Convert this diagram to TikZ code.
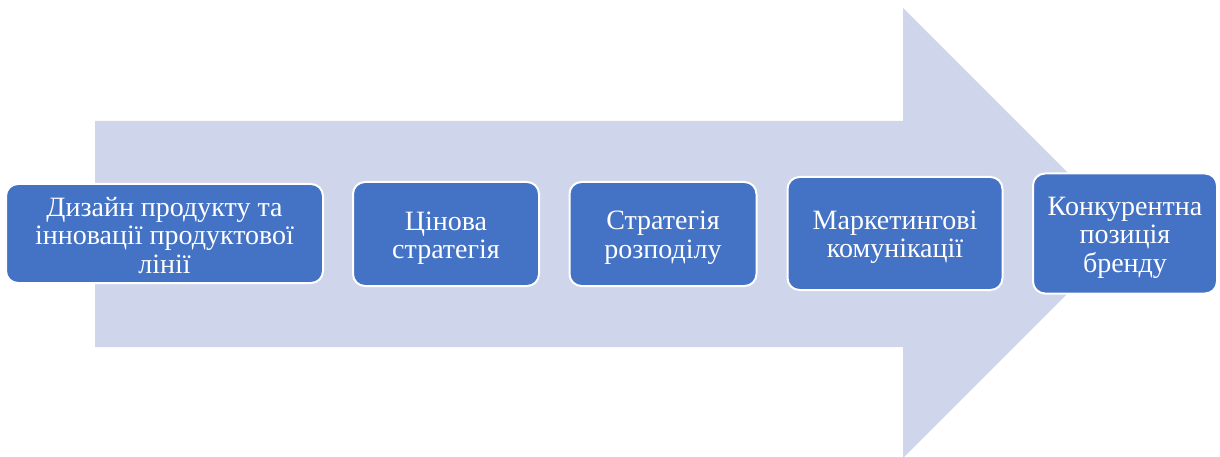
\documentclass[tikz,border=0pt]{standalone}
\usepackage{fontspec}
\setmainfont{Liberation Serif}
\definecolor{arrowfill}{HTML}{CFD5EA}
\definecolor{boxfill}{HTML}{4472C4}
\begin{document}
\begin{tikzpicture}[x=1pt,y=-1pt,
  stepbox/.style={draw=white,line width=2pt,fill=boxfill,rounded corners=12pt,inner sep=0pt},
  steptext/.style={text=white,align=center,font=\fontsize{28}{28.5}\selectfont,inner sep=0pt}]
\useasboundingbox (0,0) rectangle (1220,457);
\fill[arrowfill] (95,121) -- (903,121) -- (903,8) -- (1128,233) -- (903,458) -- (903,347) -- (95,347) -- cycle;
\node[stepbox,minimum width=317pt,minimum height=99pt] (b1) at (164.5,233.5) {};
\node[stepbox,minimum width=186pt,minimum height=104pt] (b2) at (446,234) {};
\node[stepbox,minimum width=187pt,minimum height=104pt] (b3) at (663,234) {};
\node[stepbox,minimum width=215pt,minimum height=113pt] (b4) at (895,233.5) {};
\node[stepbox,minimum width=184pt,minimum height=120pt] (b5) at (1125,233.5) {};
\node[steptext] (t1) at ([yshift=-2pt]b1.center) {Дизайн продукту та\\інновації продуктової\\лінії};
\node[steptext] (t2) at ([yshift=-4pt]b2.center) {Цінова\\стратегія};
\node[steptext] (t3) at ([yshift=-4pt]b3.center) {Стратегія\\розподілу};
\node[steptext] (t4) at ([yshift=-4pt]b4.center) {Маркетингові\\комунікації};
\node[steptext] (t5) at ([yshift=-4pt]b5.center) {Конкурентна\\позиція\\бренду};
\end{tikzpicture}
\end{document}
